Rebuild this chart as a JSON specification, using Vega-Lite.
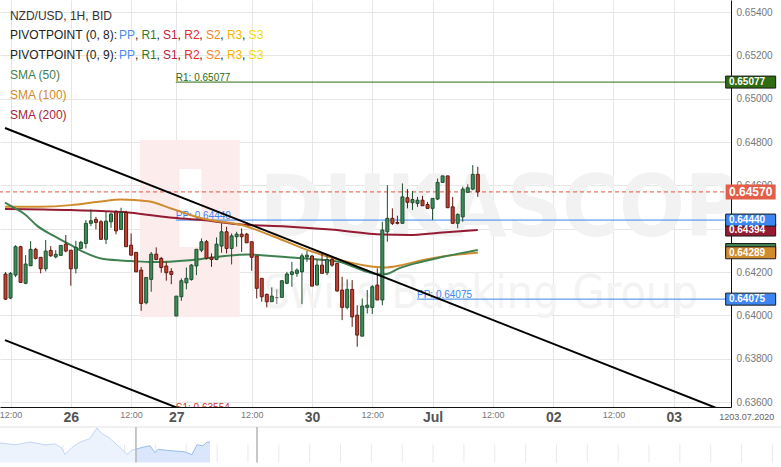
{
"$schema":"https://vega.github.io/schema/vega-lite/v6.json",
"width":731,"height":407,
"autosize":{"type":"none"},
"padding":{"left":0,"top":0,"right":50,"bottom":60},
"background":"#ffffff",
"config":{"font":"Liberation Sans","view":{"stroke":null},"text":{"align":"left","baseline":"middle","fontSize":12}},
"datasets":{
"candles":[
{"i":0,"o":0.64191,"hi":0.642,"lo":0.64071,"c":0.64075},
{"i":1,"o":0.6408,"hi":0.642,"lo":0.64075,"c":0.64194},
{"i":2,"o":0.64186,"hi":0.64324,"lo":0.64177,"c":0.64317},
{"i":3,"o":0.64317,"hi":0.64321,"lo":0.6415,"c":0.64152},
{"i":4,"o":0.64148,"hi":0.64278,"lo":0.64144,"c":0.64237},
{"i":5,"o":0.64229,"hi":0.64343,"lo":0.64228,"c":0.64305},
{"i":6,"o":0.64305,"hi":0.64312,"lo":0.64258,"c":0.64263},
{"i":7,"o":0.64268,"hi":0.64268,"lo":0.64194,"c":0.64215},
{"i":8,"o":0.64215,"hi":0.64348,"lo":0.64203,"c":0.64297},
{"i":9,"o":0.643,"hi":0.6432,"lo":0.6427,"c":0.64275},
{"i":10,"o":0.6427,"hi":0.64301,"lo":0.64263,"c":0.64282},
{"i":11,"o":0.64277,"hi":0.64323,"lo":0.64275,"c":0.64323},
{"i":12,"o":0.64329,"hi":0.64371,"lo":0.64291,"c":0.64297},
{"i":13,"o":0.64301,"hi":0.64301,"lo":0.64137,"c":0.64215},
{"i":14,"o":0.64217,"hi":0.64344,"lo":0.64194,"c":0.64314},
{"i":15,"o":0.64309,"hi":0.64344,"lo":0.64305,"c":0.64337},
{"i":16,"o":0.64332,"hi":0.6444,"lo":0.64309,"c":0.64425},
{"i":17,"o":0.64425,"hi":0.64489,"lo":0.64412,"c":0.64437},
{"i":18,"o":0.64443,"hi":0.64455,"lo":0.64397,"c":0.64429},
{"i":19,"o":0.64432,"hi":0.6444,"lo":0.64351,"c":0.64351},
{"i":20,"o":0.64351,"hi":0.64478,"lo":0.64329,"c":0.64435},
{"i":21,"o":0.64432,"hi":0.64474,"lo":0.64404,"c":0.64468},
{"i":22,"o":0.64478,"hi":0.64486,"lo":0.64374,"c":0.6439},
{"i":23,"o":0.64397,"hi":0.64497,"lo":0.64394,"c":0.64475},
{"i":24,"o":0.64475,"hi":0.64483,"lo":0.64317,"c":0.64317},
{"i":25,"o":0.64324,"hi":0.64378,"lo":0.64278,"c":0.64278},
{"i":26,"o":0.64291,"hi":0.64291,"lo":0.642,"c":0.64201},
{"i":27,"o":0.64209,"hi":0.64224,"lo":0.64021,"c":0.64055},
{"i":28,"o":0.64058,"hi":0.64175,"lo":0.64051,"c":0.64175},
{"i":29,"o":0.64166,"hi":0.64293,"lo":0.64109,"c":0.64283},
{"i":30,"o":0.64283,"hi":0.64314,"lo":0.64255,"c":0.64258},
{"i":31,"o":0.64263,"hi":0.6427,"lo":0.64197,"c":0.64221},
{"i":32,"o":0.64228,"hi":0.64247,"lo":0.6416,"c":0.64197},
{"i":33,"o":0.64203,"hi":0.64218,"lo":0.64144,"c":0.64189},
{"i":34,"o":0.63997,"hi":0.64089,"lo":0.63997,"c":0.64089},
{"i":35,"o":0.64086,"hi":0.64171,"lo":0.64067,"c":0.6416},
{"i":36,"o":0.6415,"hi":0.64221,"lo":0.6412,"c":0.64171},
{"i":37,"o":0.64166,"hi":0.64237,"lo":0.6416,"c":0.64232},
{"i":38,"o":0.64228,"hi":0.64305,"lo":0.64186,"c":0.64305},
{"i":39,"o":0.64301,"hi":0.64355,"lo":0.64292,"c":0.6434},
{"i":40,"o":0.6434,"hi":0.64348,"lo":0.64258,"c":0.64263},
{"i":41,"o":0.64268,"hi":0.64286,"lo":0.64224,"c":0.64258},
{"i":42,"o":0.64258,"hi":0.6436,"lo":0.64255,"c":0.64329},
{"i":43,"o":0.6432,"hi":0.64425,"lo":0.64289,"c":0.64386},
{"i":44,"o":0.64386,"hi":0.64409,"lo":0.64286,"c":0.64309},
{"i":45,"o":0.64309,"hi":0.64378,"lo":0.64235,"c":0.64367},
{"i":46,"o":0.64363,"hi":0.64386,"lo":0.64317,"c":0.64375},
{"i":47,"o":0.64375,"hi":0.64402,"lo":0.64293,"c":0.64363},
{"i":48,"o":0.64375,"hi":0.64381,"lo":0.64335,"c":0.64335},
{"i":49,"o":0.6434,"hi":0.6434,"lo":0.64206,"c":0.64268},
{"i":50,"o":0.64274,"hi":0.64274,"lo":0.64078,"c":0.64125},
{"i":51,"o":0.64171,"hi":0.64171,"lo":0.64063,"c":0.64086},
{"i":52,"o":0.64097,"hi":0.64101,"lo":0.64037,"c":0.64063},
{"i":53,"o":0.64063,"hi":0.64129,"lo":0.64063,"c":0.64089},
{"i":54,"o":0.64082,"hi":0.6412,"lo":0.64052,"c":0.64082},
{"i":55,"o":0.64083,"hi":0.6416,"lo":0.64083,"c":0.6416},
{"i":56,"o":0.64148,"hi":0.64201,"lo":0.64144,"c":0.64191},
{"i":57,"o":0.64189,"hi":0.64247,"lo":0.64132,"c":0.64201},
{"i":58,"o":0.64194,"hi":0.64217,"lo":0.64178,"c":0.64209},
{"i":59,"o":0.64201,"hi":0.64286,"lo":0.64052,"c":0.64275},
{"i":60,"o":0.6427,"hi":0.64297,"lo":0.64247,"c":0.64278},
{"i":61,"o":0.64274,"hi":0.64278,"lo":0.64135,"c":0.64135},
{"i":62,"o":0.6414,"hi":0.64258,"lo":0.6414,"c":0.64232},
{"i":63,"o":0.64232,"hi":0.64286,"lo":0.64194,"c":0.64194},
{"i":64,"o":0.64197,"hi":0.64278,"lo":0.64186,"c":0.64258},
{"i":65,"o":0.64258,"hi":0.6427,"lo":0.64224,"c":0.64232},
{"i":66,"o":0.6424,"hi":0.6424,"lo":0.64109,"c":0.64113},
{"i":67,"o":0.64117,"hi":0.64178,"lo":0.63978,"c":0.64037},
{"i":68,"o":0.64037,"hi":0.64166,"lo":0.64028,"c":0.6412},
{"i":69,"o":0.6412,"hi":0.64163,"lo":0.63947,"c":0.63993},
{"i":70,"o":0.64001,"hi":0.64047,"lo":0.63855,"c":0.63909},
{"i":71,"o":0.63904,"hi":0.64078,"lo":0.63904,"c":0.64043},
{"i":72,"o":0.64037,"hi":0.64117,"lo":0.64009,"c":0.64047},
{"i":73,"o":0.64037,"hi":0.6414,"lo":0.64006,"c":0.64132},
{"i":74,"o":0.6414,"hi":0.64217,"lo":0.64071,"c":0.64071},
{"i":75,"o":0.64071,"hi":0.64432,"lo":0.64047,"c":0.64394},
{"i":76,"o":0.64386,"hi":0.64601,"lo":0.6434,"c":0.64448},
{"i":77,"o":0.64448,"hi":0.64494,"lo":0.64417,"c":0.64425},
{"i":78,"o":0.64429,"hi":0.6446,"lo":0.6442,"c":0.64425},
{"i":79,"o":0.64425,"hi":0.64609,"lo":0.64425,"c":0.64547},
{"i":80,"o":0.64543,"hi":0.64583,"lo":0.64494,"c":0.64522},
{"i":81,"o":0.6452,"hi":0.64574,"lo":0.64486,"c":0.64535},
{"i":82,"o":0.64517,"hi":0.64547,"lo":0.64501,"c":0.64532},
{"i":83,"o":0.64532,"hi":0.64552,"lo":0.64506,"c":0.64506},
{"i":84,"o":0.64512,"hi":0.64524,"lo":0.64494,"c":0.64494},
{"i":85,"o":0.64494,"hi":0.6454,"lo":0.6444,"c":0.6454},
{"i":86,"o":0.64537,"hi":0.64632,"lo":0.64532,"c":0.64614},
{"i":87,"o":0.64614,"hi":0.64644,"lo":0.64614,"c":0.64644},
{"i":88,"o":0.64644,"hi":0.64644,"lo":0.64497,"c":0.64497},
{"i":89,"o":0.64501,"hi":0.64547,"lo":0.64425,"c":0.64425},
{"i":90,"o":0.64425,"hi":0.64471,"lo":0.64402,"c":0.64466},
{"i":91,"o":0.64455,"hi":0.64594,"lo":0.64432,"c":0.64583},
{"i":92,"o":0.64568,"hi":0.64605,"lo":0.64568,"c":0.64589},
{"i":93,"o":0.64583,"hi":0.64694,"lo":0.64578,"c":0.64651},
{"i":94,"o":0.64651,"hi":0.64686,"lo":0.64547,"c":0.6457}
],
"sma":[
{"k":"sma200","i":-0.1,"p":0.64491},{"k":"sma200","i":13.05,"p":0.64486},{"k":"sma200","i":23.46,"p":0.64477},{"k":"sma200","i":32.69,"p":0.64452},{"k":"sma200","i":39.16,"p":0.6444},{"k":"sma200","i":47.02,"p":0.64419},{"k":"sma200","i":55.85,"p":0.6441},{"k":"sma200","i":64.68,"p":0.64396},{"k":"sma200","i":75.09,"p":0.64373},{"k":"sma200","i":80.39,"p":0.64371},{"k":"sma200","i":86.28,"p":0.64382},{"k":"sma200","i":94,"p":0.64394},
{"k":"sma100","i":-0.1,"p":0.64502},{"k":"sma100","i":6.77,"p":0.64502},{"k":"sma100","i":13.05,"p":0.64509},{"k":"sma100","i":18.55,"p":0.64525},{"k":"sma100","i":23.07,"p":0.64535},{"k":"sma100","i":28.37,"p":0.64527},{"k":"sma100","i":33.27,"p":0.64491},{"k":"sma100","i":39.16,"p":0.64447},{"k":"sma100","i":47.02,"p":0.64417},{"k":"sma100","i":53.5,"p":0.64363},{"k":"sma100","i":60.17,"p":0.64301},{"k":"sma100","i":66.65,"p":0.64255},{"k":"sma100","i":73.13,"p":0.64225},{"k":"sma100","i":75.48,"p":0.64221},{"k":"sma100","i":78.43,"p":0.6423},{"k":"sma100","i":82.94,"p":0.64255},{"k":"sma100","i":87.65,"p":0.64274},{"k":"sma100","i":94,"p":0.64289},
{"k":"sma50","i":-0.1,"p":0.64521},{"k":"sma50","i":1.86,"p":0.64495},{"k":"sma50","i":3.83,"p":0.64467},{"k":"sma50","i":6.38,"p":0.64412},{"k":"sma50","i":9.72,"p":0.64366},{"k":"sma50","i":13.05,"p":0.64324},{"k":"sma50","i":15.61,"p":0.64292},{"k":"sma50","i":19.53,"p":0.6426},{"k":"sma50","i":25.03,"p":0.64251},{"k":"sma50","i":29.35,"p":0.64246},{"k":"sma50","i":32.69,"p":0.64248},{"k":"sma50","i":38.18,"p":0.64258},{"k":"sma50","i":43.68,"p":0.64274},{"k":"sma50","i":48.39,"p":0.64281},{"k":"sma50","i":52.9,"p":0.64274},{"k":"sma50","i":56.83,"p":0.64267},{"k":"sma50","i":62.33,"p":0.64258},{"k":"sma50","i":66.65,"p":0.64246},{"k":"sma50","i":69,"p":0.64227},{"k":"sma50","i":71.55,"p":0.64204},{"k":"sma50","i":74.11,"p":0.6419},{"k":"sma50","i":75.48,"p":0.6419},{"k":"sma50","i":78.43,"p":0.64218},{"k":"sma50","i":81.37,"p":0.64239},{"k":"sma50","i":85.69,"p":0.64263},{"k":"sma50","i":90.2,"p":0.64285},{"k":"sma50","i":94,"p":0.64302}
],
"piv":[
{"k":"r1","p":0.65077,"h0":33.9,"h1":143.4,"t":"R1: 0.65077"},
{"k":"pp","p":0.6444,"h0":33.9,"h1":143.4,"t":"PP: 0.64440"},
{"k":"s1","p":0.63554,"h0":33.9,"h1":143.4,"t":"S1: 0.63554"},
{"k":"pp","p":0.64075,"h0":81.9,"h1":143.4,"t":"PP: 0.64075"}
],
"trend":[
{"id":"a","i":-0.1,"p":0.64865},{"id":"a","i":143.4,"p":0.63555},
{"id":"b","i":-0.1,"p":0.63886},{"id":"b","i":39.16,"p":0.63528}
],
"tags":[
{"k":"sma50","p":0.64304},{"k":"sma100","p":0.64289},{"k":"sma200","p":0.64394},{"k":"pp","p":0.6444},{"k":"pp","p":0.64075},{"k":"r1","p":0.65077}
],
"nav":[
{"s":"a","t":0,"v":0.624},{"s":"a","t":1.92,"v":0.62},{"s":"a","t":3.84,"v":0.626},{"s":"a","t":5.76,"v":0.62},{"s":"a","t":7.04,"v":0.622},{"s":"a","t":7.94,"v":0.612},{"s":"a","t":8.32,"v":0.598},{"s":"a","t":9.22,"v":0.614},{"s":"a","t":10.24,"v":0.626},{"s":"a","t":11.52,"v":0.634},{"s":"a","t":12.42,"v":0.658},{"s":"a","t":12.8,"v":0.65},{"s":"a","t":13.32,"v":0.642},{"s":"a","t":13.83,"v":0.638},{"s":"a","t":14.72,"v":0.624},{"s":"a","t":15.62,"v":0.61},{"s":"a","t":16.26,"v":0.598},{"s":"a","t":16.9,"v":0.608},{"s":"a","t":17.41,"v":0.61},
{"s":"b","t":17.41,"v":0.61},{"s":"b","t":18.18,"v":0.614},{"s":"b","t":19.21,"v":0.618},{"s":"b","t":19.85,"v":0.602},{"s":"b","t":20.23,"v":0.61},{"s":"b","t":21.13,"v":0.608},{"s":"b","t":22.41,"v":0.606},{"s":"b","t":23.69,"v":0.604},{"s":"b","t":24.58,"v":0.598},{"s":"b","t":25.22,"v":0.62},{"s":"b","t":25.99,"v":0.618},{"s":"b","t":26.5,"v":0.626},{"s":"b","t":26.89,"v":0.626}
],
"navticks":[
{"t":4.1},{"t":8.05},{"t":12.0},{"t":15.95},{"t":19.9},{"t":23.85},{"t":27.8},{"t":31.75},{"t":35.7},{"t":39.65},{"t":43.6},{"t":47.55},{"t":51.5},{"t":55.45},{"t":59.4},{"t":63.35},{"t":67.3},{"t":71.25},{"t":75.2},{"t":79.15},{"t":83.1},{"t":87.05},{"t":91.0},{"t":94.95},{"t":98.9}
]
},
"layer":[
{"layer":[
 {"data":{"values":[{}]},"mark":{"type":"rect","color":"#fcecec"},"encoding":{"x":{"datum":26.79},"x2":{"datum":46.62},"y":{"datum":0.648092},"y2":{"datum":0.63992}}},
 {"data":{"values":[{}]},"mark":{"type":"rect","color":"#ffffff"},"encoding":{"x":{"datum":34.65},"x2":{"datum":38.97},"y":{"datum":0.646753},"y2":{"datum":0.643152}}},
 {"data":{"values":[{}]},"mark":{"type":"text","text":"DUKASCOPY","baseline":"alphabetic","font":"Liberation Sans Narrow, DejaVu Sans Condensed, Liberation Sans","fontWeight":"bold","fontSize":86,"fill":"#f2f2f2","clip":true},"encoding":{"x":{"datum":50.547},"y":{"datum":0.64365}}},
 {"data":{"values":[{}]},"mark":{"type":"text","text":"Swiss Banking Group","baseline":"alphabetic","font":"Liberation Sans Narrow, DejaVu Sans Condensed, Liberation Sans","fontSize":46,"fill":"#f3f3f3","clip":true},"encoding":{"x":{"datum":51.33},"y":{"datum":0.64035}}},
 {"data":{"values":[{}]},"mark":{"type":"rule","color":"#e5533d","strokeDash":[4,3],"strokeWidth":1},"encoding":{"y":{"datum":0.6457}}},
 {"data":{"name":"piv"},"mark":{"type":"rule","strokeWidth":1,"clip":true},"encoding":{"x":{"field":"h0","type":"quantitative","title":null},"x2":{"field":"h1"},"y":{"field":"p","type":"quantitative","title":null},"color":{"field":"k","type":"nominal","legend":null,"scale":{"domain":["r1","pp","s1","sma50","sma100","sma200"],"range":["#2e6b12","#3d86f2","#c8302c","#3f8050","#cf8b2e","#951b33"]}}}},
 {"data":{"name":"piv"},"mark":{"type":"text","baseline":"alphabetic","fontSize":10,"dy":-1,"clip":true},"encoding":{"x":{"field":"h0","type":"quantitative","title":null},"y":{"field":"p","type":"quantitative","title":null},"text":{"field":"t"},"color":{"field":"k","type":"nominal","legend":null,"scale":{"domain":["r1","pp","s1","sma50","sma100","sma200"],"range":["#2e6b12","#3d86f2","#c8302c","#3f8050","#cf8b2e","#951b33"]}}}},
 {"data":{"name":"sma"},"mark":{"type":"line","strokeWidth":2,"interpolate":"monotone"},"encoding":{"x":{"field":"i","type":"quantitative","title":null},"y":{"field":"p","type":"quantitative","title":null},"color":{"field":"k","type":"nominal","legend":null,"scale":{"domain":["r1","pp","s1","sma50","sma100","sma200"],"range":["#2e6b12","#3d86f2","#c8302c","#3f8050","#cf8b2e","#951b33"]}}}},
 {"data":{"name":"candles"},"mark":{"type":"rule","strokeWidth":1},"encoding":{"x":{"field":"i","type":"quantitative","title":null},"y":{"field":"lo","type":"quantitative","title":null},"y2":{"field":"hi"},"color":{"condition":[{"test":"datum.c > datum.o","value":"#1d4f2e"},{"test":"datum.c == datum.o","value":"#777777"}],"value":"#5e1a12"}}},
 {"data":{"name":"candles"},"mark":{"type":"bar","width":3,"strokeWidth":1},"encoding":{
   "x":{"field":"i","type":"quantitative","title":null,"scale":{"domain":[-0.1,143.4],"nice":false,"zero":false},"axis":{"title":null,"values":[1,13,25,34,49,61,73,85,97,109,121,133],"labelExpr":"['12:00','26','12:00','27','12:00','30','12:00','Jul','12:00','02','12:00','03'][indexof([1,13,25,34,49,61,73,85,97,109,121,133], datum.value)]","grid":true,"gridColor":"#e6e6e6","ticks":false,"domain":true,"domainColor":"#111111","labelPadding":3,"labelFlush":false,"labelOverlap":false,"labelColor":{"condition":{"test":"indexof([13,34,61,85,109,133], datum.value) >= 0","value":"#555555"},"value":"#777777"},"labelFontSize":{"condition":{"test":"indexof([13,34,61,85,109,133], datum.value) >= 0","value":14},"value":9},"labelFontWeight":{"condition":{"test":"indexof([13,34,61,85,109,133], datum.value) >= 0","value":"bold"},"value":"normal"},"labelFont":{"condition":{"test":"indexof([13,34,61,85,109,133], datum.value) >= 0","value":"Liberation Sans Narrow, Liberation Sans"},"value":"Liberation Sans"}}},
   "y":{"field":"o","type":"quantitative","title":null,"scale":{"domain":[0.63577,0.65456],"nice":false,"zero":false},"axis":{"title":null,"orient":"right","values":[0.636,0.638,0.64,0.642,0.644,0.646,0.648,0.65,0.652,0.654],"format":".5f","grid":true,"gridColor":"#e6e6e6","ticks":false,"domain":true,"domainColor":"#111111","labelColor":"#777777","labelFontSize":10,"labelPadding":5,"labelFlush":false,"labelOverlap":false}},
   "y2":{"field":"c"},
   "fill":{"condition":[{"test":"datum.c > datum.o","value":"#3e8c5a"},{"test":"datum.c == datum.o","value":"#9a9a9a"}],"value":"#c4402f"},
   "stroke":{"condition":[{"test":"datum.c > datum.o","value":"#1d4f2e"},{"test":"datum.c == datum.o","value":"#777777"}],"value":"#5e1a12"}}},
 {"data":{"name":"trend"},"mark":{"type":"line","color":"#000000","strokeWidth":2,"clip":true},"encoding":{"x":{"field":"i","type":"quantitative","title":null},"y":{"field":"p","type":"quantitative","title":null},"detail":{"field":"id"}}},
 {"data":{"values":[{}]},"mark":{"type":"text","text":"NZD/USD, 1H, BID","fill":"#333333"},"encoding":{"x":{"datum":0.8815},"y":{"datum":0.653827}}},
 {"data":{"values":[{}]},"encoding":{"y":{"datum":0.652926}},"layer":[
   {"mark":{"type":"text","text":"PIVOTPOINT (0, 8):","fill":"#222222"},"encoding":{"x":{"datum":0.8815}}},
   {"mark":{"type":"text","text":"PP","fill":"#4a8cf0"},"encoding":{"x":{"datum":22.612}}},
   {"mark":{"type":"text","text":",","fill":"#222222"},"encoding":{"x":{"datum":25.753}}},
   {"mark":{"type":"text","text":"R1","fill":"#2d7a2d"},"encoding":{"x":{"datum":27.049}}},
   {"mark":{"type":"text","text":",","fill":"#222222"},"encoding":{"x":{"datum":30.072}}},
   {"mark":{"type":"text","text":"S1","fill":"#b5253a"},"encoding":{"x":{"datum":31.368}}},
   {"mark":{"type":"text","text":",","fill":"#222222"},"encoding":{"x":{"datum":34.254}}},
   {"mark":{"type":"text","text":"R2","fill":"#ea2a2a"},"encoding":{"x":{"datum":35.569}}},
   {"mark":{"type":"text","text":",","fill":"#222222"},"encoding":{"x":{"datum":38.573}}},
   {"mark":{"type":"text","text":"S2","fill":"#f5862a"},"encoding":{"x":{"datum":39.888}}},
   {"mark":{"type":"text","text":",","fill":"#222222"},"encoding":{"x":{"datum":42.754}}},
   {"mark":{"type":"text","text":"R3","fill":"#f7b400"},"encoding":{"x":{"datum":44.069}}},
   {"mark":{"type":"text","text":",","fill":"#222222"},"encoding":{"x":{"datum":47.073}}},
   {"mark":{"type":"text","text":"S3","fill":"#f0dc00"},"encoding":{"x":{"datum":48.388}}}
 ]},
 {"data":{"values":[{}]},"encoding":{"y":{"datum":0.652003}},"layer":[
   {"mark":{"type":"text","text":"PIVOTPOINT (0, 9):","fill":"#222222"},"encoding":{"x":{"datum":0.8815}}},
   {"mark":{"type":"text","text":"PP","fill":"#4a8cf0"},"encoding":{"x":{"datum":22.612}}},
   {"mark":{"type":"text","text":",","fill":"#222222"},"encoding":{"x":{"datum":25.753}}},
   {"mark":{"type":"text","text":"R1","fill":"#2d7a2d"},"encoding":{"x":{"datum":27.049}}},
   {"mark":{"type":"text","text":",","fill":"#222222"},"encoding":{"x":{"datum":30.072}}},
   {"mark":{"type":"text","text":"S1","fill":"#b5253a"},"encoding":{"x":{"datum":31.368}}},
   {"mark":{"type":"text","text":",","fill":"#222222"},"encoding":{"x":{"datum":34.254}}},
   {"mark":{"type":"text","text":"R2","fill":"#ea2a2a"},"encoding":{"x":{"datum":35.569}}},
   {"mark":{"type":"text","text":",","fill":"#222222"},"encoding":{"x":{"datum":38.573}}},
   {"mark":{"type":"text","text":"S2","fill":"#f5862a"},"encoding":{"x":{"datum":39.888}}},
   {"mark":{"type":"text","text":",","fill":"#222222"},"encoding":{"x":{"datum":42.754}}},
   {"mark":{"type":"text","text":"R3","fill":"#f7b400"},"encoding":{"x":{"datum":44.069}}},
   {"mark":{"type":"text","text":",","fill":"#222222"},"encoding":{"x":{"datum":47.073}}},
   {"mark":{"type":"text","text":"S3","fill":"#f0dc00"},"encoding":{"x":{"datum":48.388}}}
 ]},
 {"data":{"values":[{}]},"mark":{"type":"text","text":"SMA (50)","fill":"#3f8050"},"encoding":{"x":{"datum":0.8815},"y":{"datum":0.651079}}},
 {"data":{"values":[{}]},"mark":{"type":"text","text":"SMA (100)","fill":"#cf8a2c"},"encoding":{"x":{"datum":0.8815},"y":{"datum":0.650156}}},
 {"data":{"values":[{}]},"mark":{"type":"text","text":"SMA (200)","fill":"#a8243c"},"encoding":{"x":{"datum":0.8815},"y":{"datum":0.649233}}},
 {"data":{"name":"tags"},"mark":{"type":"tick","orient":"horizontal","size":50,"thickness":12,"opacity":1,"stroke":"#1a1a1a","strokeWidth":1},"encoding":{"x":{"datum":148.31},"y":{"field":"p","type":"quantitative","title":null},"color":{"field":"k","type":"nominal","legend":null,"scale":{"domain":["r1","pp","s1","sma50","sma100","sma200"],"range":["#2e6b12","#3d86f2","#c8302c","#3f8050","#cf8b2e","#951b33"]}}}},
 {"data":{"name":"tags"},"transform":[{"filter":"datum.k != 'sma50'"}],"mark":{"type":"text","fontSize":10,"fontWeight":"bold","fill":"#ffffff"},"encoding":{"x":{"datum":143.99},"y":{"field":"p","type":"quantitative","title":null},"text":{"field":"p","type":"quantitative","format":".5f"}}},
 {"data":{"values":[{}]},"mark":{"type":"tick","orient":"horizontal","size":50,"thickness":15,"opacity":1,"color":"#e25e48"},"encoding":{"x":{"datum":148.31},"y":{"datum":0.6457}}},
 {"data":{"values":[{}]},"mark":{"type":"text","text":"0.64570","fontSize":12,"fontWeight":"bold","fill":"#ffffff"},"encoding":{"x":{"datum":143.99},"y":{"datum":0.6457}}},
 {"data":{"values":[{}]},"mark":{"type":"text","text":"1203.07.2020","align":"right","fontSize":9,"fill":"#666666"},"encoding":{"x":{"datum":153.02},"y":{"datum":0.635303}}}
]},
{"layer":[
 {"data":{"name":"navticks"},"mark":{"type":"rule","color":"#e9e9e9"},"encoding":{"x":{"field":"t","type":"quantitative","scale":{"domain":[0,100],"range":[0,781]},"axis":null},"y":{"datum":0.58,"scale":{"domain":[0.58,0.66],"range":[467,427]},"axis":null},"y2":{"datum":0.6206}}},
 {"data":{"name":"nav"},"transform":[{"filter":"datum.s == 'a'"}],"mark":{"type":"area","color":"#edf3fc"},"encoding":{"x":{"field":"t","type":"quantitative","axis":null},"y":{"field":"v","type":"quantitative","axis":null},"y2":{"datum":0.58}}},
 {"data":{"name":"nav"},"transform":[{"filter":"datum.s == 'b'"}],"mark":{"type":"area","color":"#d9e6fb"},"encoding":{"x":{"field":"t","type":"quantitative","axis":null},"y":{"field":"v","type":"quantitative","axis":null},"y2":{"datum":0.58}}},
 {"data":{"name":"nav"},"transform":[{"filter":"datum.s == 'a'"}],"mark":{"type":"line","color":"#c3d6f6","strokeWidth":1},"encoding":{"x":{"field":"t","type":"quantitative","axis":null},"y":{"field":"v","type":"quantitative","axis":null}}},
 {"data":{"name":"nav"},"transform":[{"filter":"datum.s == 'b'"}],"mark":{"type":"line","color":"#9dbcf0","strokeWidth":1},"encoding":{"x":{"field":"t","type":"quantitative","axis":null},"y":{"field":"v","type":"quantitative","axis":null}}},
 {"data":{"values":[{}]},"mark":{"type":"rule","color":"#e2e2e2"},"encoding":{"x":{"datum":0,"axis":null},"x2":{"datum":100},"y":{"datum":0.66,"axis":null}}},
 {"data":{"values":[{"t":17.41},{"t":32.91}]},"mark":{"type":"rule","color":"#b5b5b5","strokeWidth":1.5},"encoding":{"x":{"field":"t","type":"quantitative","axis":null},"y":{"datum":0.58,"axis":null},"y2":{"datum":0.66}}}
]}
],
"resolve":{"scale":{"x":"independent","y":"independent"}}
}
